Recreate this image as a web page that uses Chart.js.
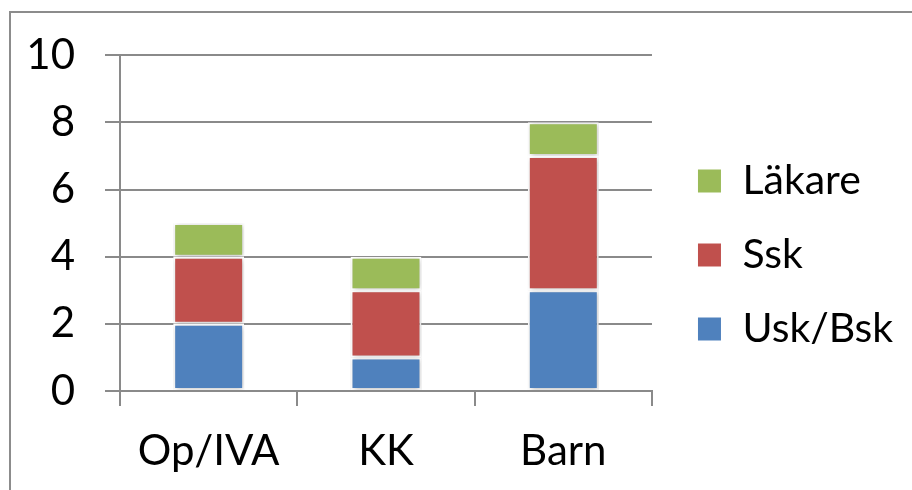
<!DOCTYPE html>
<html>
<head>
<meta charset="utf-8">
<script src="https://cdn.jsdelivr.net/npm/chart.js@4.4.1/dist/chart.umd.min.js"></script>
<style>
  html, body { margin: 0; padding: 0; background: #fff; }
  #wrap { width: 912px; height: 490px; }
</style>
</head>
<body>
<div id="wrap"><canvas id="c" width="912" height="490"></canvas></div>
<script>
// Staff per unit, stacked by profession
const categories = ['Op/IVA', 'KK', 'Barn'];
const uskBsk = [2, 1, 3];
const ssk = [2, 2, 4];
const lakare = [1, 1, 1];
const seriesNames = ['Usk/Bsk', 'Ssk', 'Läkare'];
const seriesColors = ['#4F81BD', '#C0504D', '#9BBB59'];

const FONT = 'Lato, "Open Sans", sans-serif';
const AXIS_GREY = '#8a8a8a';

// White page with a thin grey frame around the chart
const framePlugin = {
  id: 'frame',
  beforeDraw(chart) {
    const ctx = chart.ctx;
    ctx.save();
    ctx.fillStyle = '#ffffff';
    ctx.fillRect(0, 0, chart.width, chart.height);
    ctx.strokeStyle = '#8c8c8c';
    ctx.lineWidth = 2;
    ctx.strokeRect(10, 12, chart.width + 20, chart.height + 20);
    ctx.restore();
  }
};

// Soft drop shadow around the bar segments
const shadowPlugin = {
  id: 'barShadow',
  beforeDatasetsDraw(chart) {
    const ctx = chart.ctx;
    ctx.save();
    ctx.shadowColor = 'rgba(0,0,0,0.28)';
    ctx.shadowBlur = 5;
    ctx.shadowOffsetX = 1;
    ctx.shadowOffsetY = 1;
  },
  afterDatasetsDraw(chart) {
    chart.ctx.restore();
  }
};

// Nudge the legend block into place beside the plot
const legendShift = {
  id: 'legendShift',
  afterLayout(chart) {
    const lg = chart.legend;
    if (!lg) return;
    const dx = 12, dy = -17;
    lg.left += dx; lg.right += dx;
    lg.top += dy; lg.bottom += dy;
  }
};

const values = [uskBsk, ssk, lakare];
const datasets = seriesNames.map((name, i) => ({
  label: name,
  data: values[i],
  backgroundColor: seriesColors[i],
  borderColor: '#ffffff',
  borderWidth: 2,
  borderSkipped: false,
  barPercentage: 0.4,
  categoryPercentage: 1.0
}));

new Chart(document.getElementById('c'), {
  type: 'bar',
  data: { labels: categories, datasets },
  plugins: [framePlugin, shadowPlugin, legendShift],
  options: {
    responsive: false,
    animation: false,
    devicePixelRatio: 1,
    layout: { padding: { top: 54, left: 0, right: 21, bottom: 0 } },
    plugins: {
      tooltip: { enabled: false },
      legend: {
        position: 'right',
        reverse: true,
        maxWidth: 400,
        labels: {
          color: '#000',
          font: { family: FONT, size: 41 },
          boxWidth: 25,
          boxHeight: 25,
          padding: 33
        }
      }
    },
    scales: {
      x: {
        stacked: true,
        afterFit(scale) { scale.height = 99; },
        grid: {
          display: true,
          drawOnChartArea: false,
          drawTicks: true,
          tickLength: 15,
          color: AXIS_GREY,
          lineWidth: 2,
          offset: true
        },
        border: { display: true, color: AXIS_GREY, width: 2 },
        ticks: {
          color: '#000',
          font: { family: FONT, size: 42 },
          padding: 20,
          maxRotation: 0
        }
      },
      y: {
        stacked: true,
        min: 0,
        max: 10,
        afterFit(scale) { scale.width = 120; },
        grid: {
          color: AXIS_GREY,
          lineWidth: 2,
          drawTicks: true,
          tickLength: 15
        },
        border: { display: true, color: AXIS_GREY, width: 2 },
        ticks: {
          stepSize: 2,
          color: '#000',
          font: { family: FONT, size: 42 },
          padding: 30
        }
      }
    }
  }
});
</script>
</body>
</html>
